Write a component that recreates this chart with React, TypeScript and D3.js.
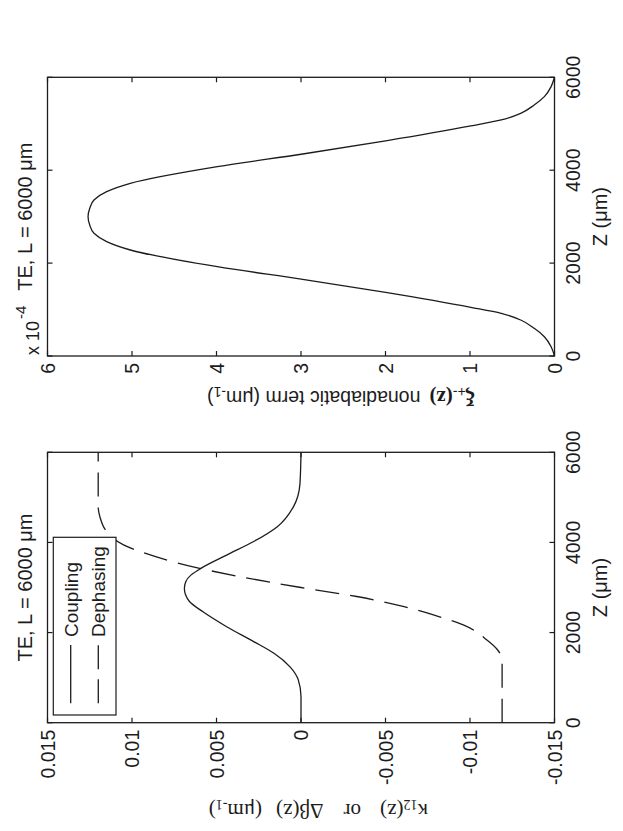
import React from 'react';
import * as d3 from 'd3';

// ---------- data ----------
const zTicks = [0, 2000, 4000, 6000];
const zTickLabels = ['0', '2000', '4000', '6000'];

const kappaTicks = [-0.015, -0.01, -0.005, 0, 0.005, 0.01, 0.015];
const kappaTickLabels = ['-0.015', '-0.01', '-0.005', '0', '0.005', '0.01', '0.015'];

const xiTicks = [0, 1, 2, 3, 4, 5, 6];
const xiTickLabels = ['0', '1', '2', '3', '4', '5', '6'];

// Coupling kappa12(z)
const couplingZ = [0, 580, 950, 1240, 1540, 1800, 2130, 2460, 2690, 2840, 2980, 3130, 3280, 3430, 3720, 4020, 4350, 4790, 5310, 6000];
const couplingV = [0, 0, 0.00016, 0.00065, 0.0016, 0.0028, 0.0044, 0.0058, 0.0066, 0.00683, 0.0069, 0.00682, 0.0065, 0.0059, 0.0044, 0.0028, 0.0014, 0.00045, 0.00006, 0];

// Dephasing delta-beta(z)
const dephasingZ = [0, 1390, 1630, 1835, 2170, 2350, 2575, 2800, 3000, 3240, 3425, 3685, 3945, 4200, 4570, 4790, 6000];
const dephasingV = [-0.0119, -0.0119, -0.0116, -0.0110, -0.0096, -0.0082, -0.0061, -0.0033, 0, 0.0036, 0.0060, 0.0086, 0.0105, 0.0114, 0.0119, 0.0120, 0.0120];

// Nonadiabatic term xi(z), in units of 1e-4
const xiZ = [0, 200, 416, 596, 775, 919, 1048, 1364, 1651, 1923, 2282, 2462, 2641, 2820, 3000, 3180, 3359, 3538, 3718, 4077, 4349, 4636, 4952, 5081, 5225, 5404, 5584, 5800, 6000];
const xiV = [0, 0.04, 0.12, 0.24, 0.40, 0.63, 0.99, 1.98, 2.98, 3.99, 5.02, 5.30, 5.45, 5.50, 5.52, 5.50, 5.45, 5.30, 5.02, 3.99, 2.98, 1.98, 0.99, 0.63, 0.40, 0.24, 0.12, 0.04, 0];

// ---------- layout (original, un-rotated figure coordinates) ----------
const FIG_W = 831; // becomes page height after rotation
const FIG_H = 623;
const TOP = 47.5;
const BOTTOM = 554.5;
const LEFT_PANEL = { x0: 108.3, x1: 378.7 };
const RIGHT_PANEL = { x0: 475, x1: 753.7 };

const SANS = '"Liberation Sans", Arial, Helvetica, sans-serif';
const SERIF = '"Liberation Serif", "Times New Roman", serif';
const INK = '#1c1c1c';
const TICK = 5;

type Panel = { x0: number; x1: number };

function Frame({ p, xs, ys, yTicks, yLabels }: { p: Panel; xs: d3.ScaleLinear<number, number>; ys: d3.ScaleLinear<number, number>; yTicks: number[]; yLabels: string[] }) {
  return (
    <g>
      <rect x={p.x0} y={TOP} width={p.x1 - p.x0} height={BOTTOM - TOP} fill="none" stroke={INK} strokeWidth={1.3} />
      {zTicks.map((t, i) => (
        <g key={'zt' + i}>
          <line x1={xs(t)} x2={xs(t)} y1={BOTTOM} y2={BOTTOM - TICK} stroke={INK} strokeWidth={1.2} />
          <line x1={xs(t)} x2={xs(t)} y1={TOP} y2={TOP + TICK} stroke={INK} strokeWidth={1.2} />
          <text x={xs(t)} y={580} textAnchor="middle" fontFamily={SANS} fontSize={19.5} fill={INK}>{zTickLabels[i]}</text>
        </g>
      ))}
      {yTicks.map((t, i) => (
        <g key={'yt' + i}>
          <line x1={p.x0} x2={p.x0 + TICK} y1={ys(t)} y2={ys(t)} stroke={INK} strokeWidth={1.2} />
          <line x1={p.x1} x2={p.x1 - TICK} y1={ys(t)} y2={ys(t)} stroke={INK} strokeWidth={1.2} />
          <text x={p.x0 - 7} y={ys(t)} dy="0.36em" textAnchor="end" fontFamily={SANS} fontSize={19.5} fill={INK}>{yLabels[i]}</text>
        </g>
      ))}
      <text x={(p.x0 + p.x1) / 2} y={607} textAnchor="middle" fontFamily={SANS} fontSize={20} fill={INK}>Z (μm)</text>
    </g>
  );
}

export default function App() {
  const xsL = d3.scaleLinear().domain([0, 6000]).range([LEFT_PANEL.x0, LEFT_PANEL.x1]);
  const xsR = d3.scaleLinear().domain([0, 6000]).range([RIGHT_PANEL.x0, RIGHT_PANEL.x1]);
  const ysK = d3.scaleLinear().domain([-0.015, 0.015]).range([BOTTOM, TOP]);
  const ysX = d3.scaleLinear().domain([0, 6]).range([BOTTOM, TOP]);

  const lineK = d3.line<number>().x((d, i) => xsL(couplingZ[i])).y((d) => ysK(d)).curve(d3.curveMonotoneX);
  const lineD = d3.line<number>().x((d, i) => xsL(dephasingZ[i])).y((d) => ysK(d)).curve(d3.curveMonotoneX);
  const lineX = d3.line<number>().x((d, i) => xsR(xiZ[i])).y((d) => ysX(d)).curve(d3.curveMonotoneX);

  const cL = (LEFT_PANEL.x0 + LEFT_PANEL.x1) / 2;
  const cR = (RIGHT_PANEL.x0 + RIGHT_PANEL.x1) / 2;

  return (
    <svg width={FIG_H} height={FIG_W} style={{ position: 'absolute', left: 0, top: 0, background: '#fff' }}>
      <rect x={0} y={0} width={FIG_H} height={FIG_W} fill="#fff" />
      <g transform={`translate(0,${FIG_W}) rotate(-90)`}>
        {/* left panel: coupling / dephasing */}
        <Frame p={LEFT_PANEL} xs={xsL} ys={ysK} yTicks={kappaTicks} yLabels={kappaTickLabels} />
        <path d={lineK(couplingV) || ''} fill="none" stroke={INK} strokeWidth={1.3} />
        <path d={lineD(dephasingV) || ''} fill="none" stroke={INK} strokeWidth={1.3} strokeDasharray="24 11" />
        <text x={cL} y={32} textAnchor="middle" fontFamily={SANS} fontSize={20} fill={INK}>TE, L = 6000 μm</text>
        {/* legend */}
        <rect x={116} y={53.3} width={177.7} height={62.7} fill="#fff" stroke={INK} strokeWidth={1.2} />
        <line x1={127.7} x2={186} y1={70.7} y2={70.7} stroke={INK} strokeWidth={1.3} />
        <line x1={127.7} x2={186} y1={98.3} y2={98.3} stroke={INK} strokeWidth={1.3} strokeDasharray="24 10" />
        <text x={194} y={77.5} fontFamily={SANS} fontSize={19} fill={INK}>Coupling</text>
        <text x={194} y={105} fontFamily={SANS} fontSize={19} fill={INK}>Dephasing</text>
        {/* y label */}
        <text transform="translate(27,428) rotate(-90)" fontFamily={SERIF} fontSize={21} fill={INK}>
          <tspan>κ</tspan>
          <tspan dy={4} fontSize={14}>12</tspan>
          <tspan dy={-4}>(z)</tspan>
          <tspan dx={19}>or</tspan>
          <tspan dx={20}>Δβ(z)</tspan>
          <tspan dx={14}>(μm</tspan>
          <tspan dy={4} fontSize={14}>-1</tspan>
          <tspan dy={-4}>)</tspan>
        </text>

        {/* right panel: nonadiabatic term */}
        <Frame p={RIGHT_PANEL} xs={xsR} ys={ysX} yTicks={xiTicks} yLabels={xiTickLabels} />
        <path d={lineX(xiV) || ''} fill="none" stroke={INK} strokeWidth={1.3} />
        <text x={cR} y={32} textAnchor="middle" fontFamily={SANS} fontSize={20} fill={INK}>TE, L = 6000 μm</text>
        <text x={476} y={39} fontFamily={SANS} fontSize={18} fill={INK}>x 10</text>
        <text x={512} y={26} fontFamily={SANS} fontSize={15} fill={INK}>-4</text>
        <text transform="translate(440,475) rotate(-90)" fill={INK}>
          <tspan fontFamily={SERIF} fontWeight="bold" fontSize={21}>ξ</tspan>
          <tspan dy={4} fontFamily={SANS} fontSize={14}>+-</tspan>
          <tspan dy={-4} fontFamily={SERIF} fontWeight="bold" fontSize={21}>(z)</tspan>
          <tspan dx={9} fontFamily={SANS} fontSize={19.5}>nonadiabatic term (μm</tspan>
          <tspan dy={4} fontFamily={SANS} fontSize={14}>-1</tspan>
          <tspan dy={-4} fontFamily={SANS} fontSize={19.5}>)</tspan>
        </text>
      </g>
    </svg>
  );
}
